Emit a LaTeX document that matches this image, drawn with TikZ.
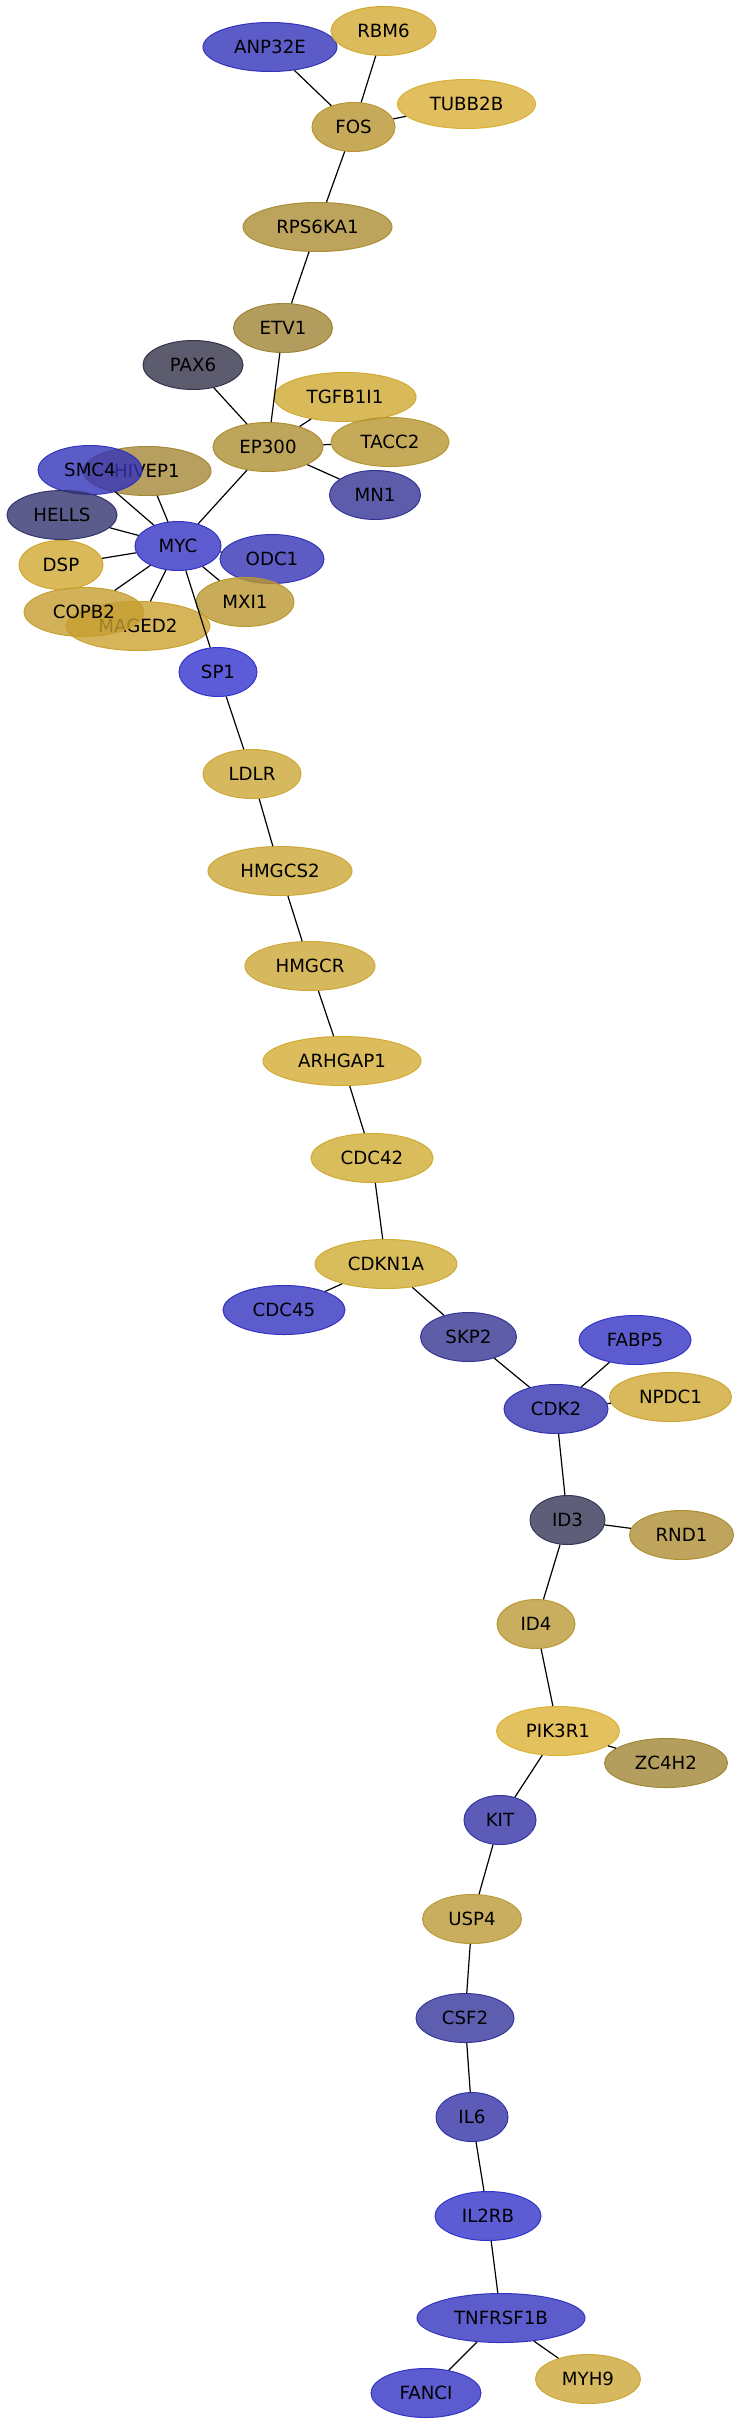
\documentclass[tikz,border=0pt]{standalone}
\usepackage{fontspec}
\newfontfamily\dejavu{DejaVu Sans}
\usetikzlibrary{shapes.geometric}
\definecolor{cb186}{RGB}{51,51,186}
\definecolor{cb196}{RGB}{51,51,196}
\definecolor{cb181}{RGB}{51,51,181}
\definecolor{cb206}{RGB}{51,51,206}
\definecolor{cb191}{RGB}{51,51,191}
\definecolor{cb176}{RGB}{51,51,176}
\definecolor{cb166}{RGB}{51,51,166}
\definecolor{cb201}{RGB}{51,51,201}
\definecolor{cb149}{RGB}{51,51,149}
\definecolor{cb146}{RGB}{54,54,146}
\definecolor{cb156}{RGB}{54,54,156}
\definecolor{cb111}{RGB}{51,51,111}
\definecolor{cg74}{RGB}{51,51,74}
\definecolor{cg86}{RGB}{54,54,86}
\definecolor{yRBM}{RGB}{210,170,51}
\definecolor{yTUB}{RGB}{217,175,54}
\definecolor{yFOS}{RGB}{184,149,49}
\definecolor{yRPS}{RGB}{171,141,51}
\definecolor{yETV}{RGB}{159,131,54}
\definecolor{yTGF}{RGB}{207,169,49}
\definecolor{yEP}{RGB}{174,142,51}
\definecolor{yTAC}{RGB}{182,149,49}
\definecolor{yHIV}{RGB}{165,136,55}
\definecolor{yDSP}{RGB}{209,167,49}
\definecolor{yMXI}{RGB}{186,151,49}
\definecolor{yCOP}{RGB}{198,159,49}
\definecolor{yMAG}{RGB}{204,162,49}
\definecolor{yLDL}{RGB}{204,166,54}
\definecolor{yARH}{RGB}{211,171,51}
\definecolor{yCDK}{RGB}{207,171,51}
\definecolor{yNPD}{RGB}{206,167,51}
\definecolor{yRND}{RGB}{174,141,51}
\definecolor{yID4}{RGB}{186,154,54}
\definecolor{yPIK}{RGB}{220,177,54}
\definecolor{yZC}{RGB}{161,134,54}
\tikzset{
  gn/.style={ellipse, fill opacity=0.8, text opacity=1, line width=1pt,
    inner sep=0pt, minimum height=49pt, font=\dejavu\fontsize{18.2}{20}\selectfont, text=black},
  ed/.style={line width=1.2pt, black},
  cl/.style={fill=#1, draw=#1}
}
\begin{document}
\begin{tikzpicture}[x=1pt,y=-1pt]
\useasboundingbox (0,0) rectangle (741,2424);
\node[gn, cl=cb186, minimum width=134pt] (ANP32E) at (270,47) {ANP32E};
\node[gn, cl=yRBM, minimum width=105pt] (RBM6) at (383.5,31) {RBM6};
\node[gn, cl=yTUB, minimum width=138pt] (TUBB2B) at (466.5,104) {TUBB2B};
\node[gn, cl=yFOS, minimum width=83pt] (FOS) at (353.5,127) {FOS};
\node[gn, cl=yRPS, minimum width=149pt] (RPS6KA1) at (317.5,227) {RPS6KA1};
\node[gn, cl=yETV, minimum width=99pt] (ETV1) at (283,328) {ETV1};
\node[gn, cl=cg74, minimum width=100pt] (PAX6) at (193,365) {PAX6};
\node[gn, cl=yTGF, minimum width=142pt] (TGFB1I1) at (345,397) {TGFB1I1};
\node[gn, cl=yTAC, minimum width=118pt] (TACC2) at (390,442) {TACC2};
\node[gn, cl=yEP, minimum width=110pt] (EP300) at (268,447) {EP300};
\node[gn, cl=cb149, minimum width=91pt] (MN1) at (375,495) {MN1};
\node[gn, cl=yHIV, minimum width=128pt] (HIVEP1) at (147,471) {HIVEP1};
\node[gn, cl=cb186, minimum width=104pt] (SMC4) at (90,470) {SMC4};
\node[gn, cl=cb111, minimum width=110pt] (HELLS) at (62,515) {HELLS};
\node[gn, cl=cb196, minimum width=86pt] (MYC) at (178,546) {MYC};
\node[gn, cl=cb181, minimum width=104pt] (ODC1) at (272,559) {ODC1};
\node[gn, cl=yDSP, minimum width=84pt] (DSP) at (61,565) {DSP};
\node[gn, cl=yMXI, minimum width=98pt] (MXI1) at (245,602) {MXI1};
\node[gn, cl=yMAG, minimum width=144pt] (MAGED2) at (138,626) {MAGED2};
\node[gn, cl=yCOP, minimum width=120pt] (COPB2) at (84,612) {COPB2};
\node[gn, cl=cb206, minimum width=78pt] (SP1) at (218,672) {SP1};
\node[gn, cl=yLDL, minimum width=98pt] (LDLR) at (252,774) {LDLR};
\node[gn, cl=yLDL, minimum width=144pt] (HMGCS2) at (280,871) {HMGCS2};
\node[gn, cl=yLDL, minimum width=130pt] (HMGCR) at (310,966) {HMGCR};
\node[gn, cl=yARH, minimum width=158pt] (ARHGAP1) at (342,1061) {ARHGAP1};
\node[gn, cl=yCDK, minimum width=122pt] (CDC42) at (372,1158) {CDC42};
\node[gn, cl=yCDK, minimum width=142pt] (CDKN1A) at (386,1264) {CDKN1A};
\node[gn, cl=cb191, minimum width=122pt] (CDC45) at (284,1310) {CDC45};
\node[gn, cl=cb146, minimum width=96pt] (SKP2) at (468.5,1337) {SKP2};
\node[gn, cl=cb196, minimum width=112pt] (FABP5) at (635,1340) {FABP5};
\node[gn, cl=yNPD, minimum width=122pt] (NPDC1) at (670.5,1397) {NPDC1};
\node[gn, cl=cb176, minimum width=104pt] (CDK2) at (556,1409) {CDK2};
\node[gn, cl=cg86, minimum width=75pt] (ID3) at (567.5,1520) {ID3};
\node[gn, cl=yRND, minimum width=104pt] (RND1) at (681.5,1535) {RND1};
\node[gn, cl=yID4, minimum width=78pt] (ID4) at (536,1624) {ID4};
\node[gn, cl=yPIK, minimum width=123pt] (PIK3R1) at (558,1731) {PIK3R1};
\node[gn, cl=yZC, minimum width=123pt] (ZC4H2) at (666,1763) {ZC4H2};
\node[gn, cl=cb166, minimum width=72pt] (KIT) at (500,1820) {KIT};
\node[gn, cl=yID4, minimum width=99pt] (USP4) at (472,1919) {USP4};
\node[gn, cl=cb156, minimum width=98pt] (CSF2) at (465,2018) {CSF2};
\node[gn, cl=cb166, minimum width=72pt] (IL6) at (472,2117) {IL6};
\node[gn, cl=cb201, minimum width=106pt] (IL2RB) at (488,2216) {IL2RB};
\node[gn, cl=cb191, minimum width=168pt] (TNFRSF1B) at (501,2318) {TNFRSF1B};
\node[gn, cl=cb196, minimum width=110pt] (FANCI) at (426,2393) {FANCI};
\node[gn, cl=yLDL, minimum width=105pt] (MYH9) at (588,2379) {MYH9};
\foreach \a/\b in {ANP32E/FOS, RBM6/FOS, TUBB2B/FOS, FOS/RPS6KA1, RPS6KA1/ETV1,
  ETV1/EP300, PAX6/EP300, TGFB1I1/EP300, TACC2/EP300, MN1/EP300, EP300/MYC,
  SMC4/MYC, HIVEP1/MYC, HELLS/MYC, DSP/MYC, COPB2/MYC, MAGED2/MYC, MXI1/MYC,
  ODC1/MYC, SP1/MYC, SP1/LDLR, LDLR/HMGCS2, HMGCS2/HMGCR, HMGCR/ARHGAP1,
  ARHGAP1/CDC42, CDC42/CDKN1A, CDKN1A/CDC45, CDKN1A/SKP2, SKP2/CDK2,
  FABP5/CDK2, NPDC1/CDK2, CDK2/ID3, ID3/RND1, ID3/ID4, ID4/PIK3R1,
  PIK3R1/ZC4H2, PIK3R1/KIT, KIT/USP4, USP4/CSF2, CSF2/IL6, IL6/IL2RB,
  IL2RB/TNFRSF1B, TNFRSF1B/FANCI, TNFRSF1B/MYH9}
  \draw[ed] (\a) -- (\b);
\end{tikzpicture}
\end{document}
